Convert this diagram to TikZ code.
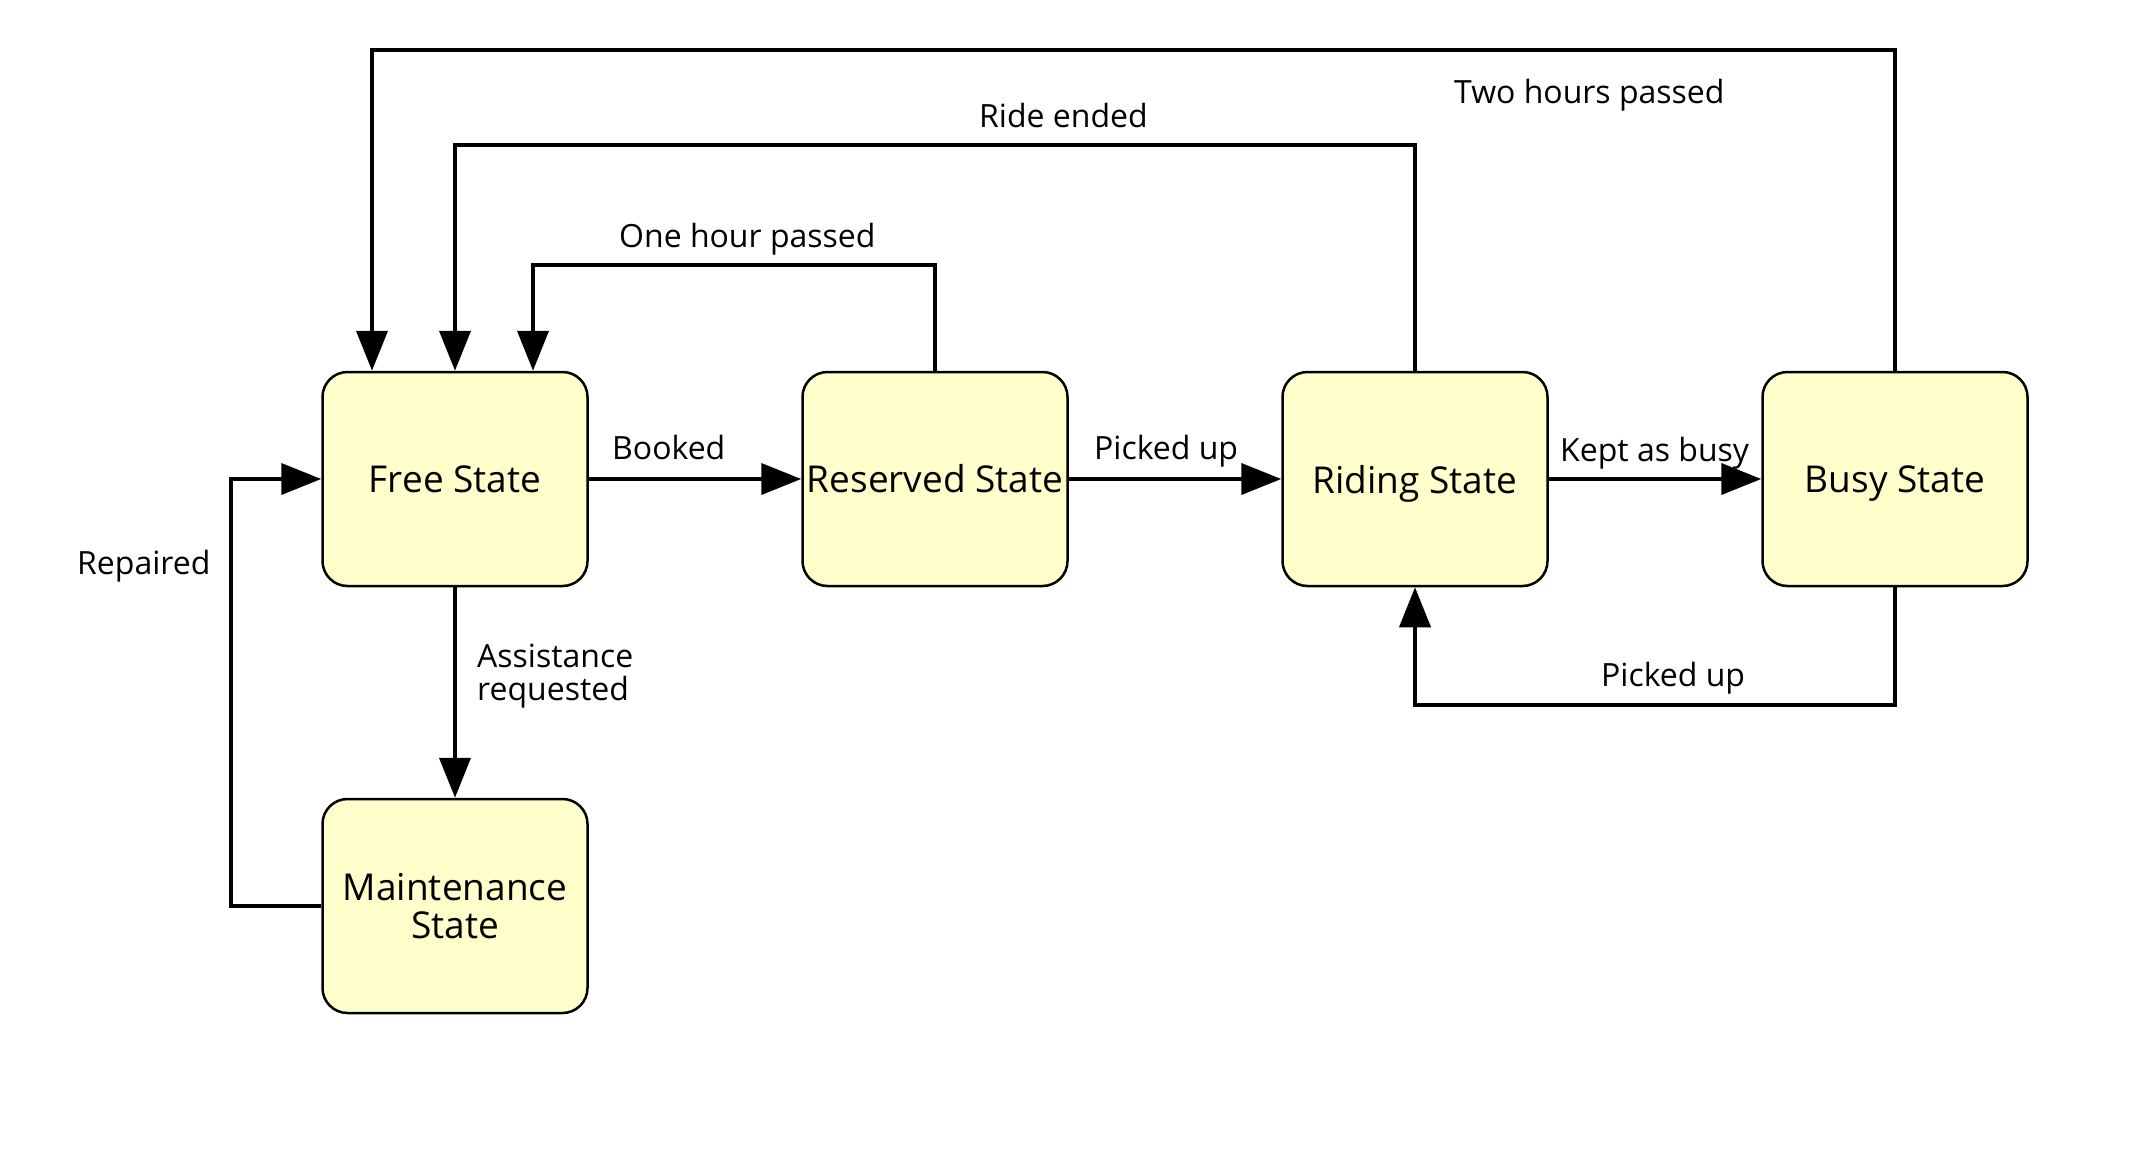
\documentclass[tikz,border=0pt]{standalone}
\usepackage{fontspec}
\setmainfont{Open Sans}
\usetikzlibrary{arrows.meta,calc}
\definecolor{stfill}{HTML}{FFFFCC}
\begin{document}
\begin{tikzpicture}[x=1pt,y=-1pt,
  state/.style={draw=black,line width=2.5pt,fill=stfill,rounded corners=25pt,
    minimum width=265pt,minimum height=214pt,inner sep=0pt,align=center,
    font=\fontsize{37}{37.5}\selectfont},
  nodesc/.style={text depth=0pt},
  conn/.style={line width=4pt,-{Triangle[length=40pt,width=31pt]}},
  lab/.style={font=\fontsize{32}{32.5}\selectfont,inner sep=0pt,anchor=base west}]
\useasboundingbox (0,0) rectangle (2129,1151);
% states
\node[state] (free) at (455,479) {Free State};
\node[state] (res) at (935,479) {Reserved State};
\node[state,nodesc] (ride) at (1415,479) {Riding State};
\node[state,nodesc] (busy) at (1895,479) {Busy State};
\node[state] (maint) at (455,906) {Maintenance\\State};
% bend coordinates
\coordinate (th) at (372,50);
\coordinate (re) at (0,145);
\coordinate (oh) at (533,265);
\coordinate (bb) at (0,705);
\coordinate (rp) at (231,0);
% connectors
\draw[conn] (free.east) -- (res.west);
\draw[conn] (res.east) -- (ride.west);
\draw[conn] (ride.east) -- (busy.west);
\draw[conn] (free.south) -- (maint.north);
\draw[conn] (maint.west) -- (maint.west -| rp) |- (free.west);
\draw[conn] (busy.south) -- (busy.south |- bb) -| (ride.south);
\draw[conn] (ride.north) -- (ride.north |- re) -| (free.north);
\draw[conn] (res.north) |- (oh) -- (oh |- free.north);
\draw[conn] (busy.north) |- (th) -- (th |- free.north);
% labels
\node[lab] (lbooked) at (612,459) {Booked};
\node[lab] (lpick1) at (1094,459) {Picked up};
\node[lab] (lkept) at (1560,461) {Kept as busy};
\node[lab] (lpick2) at (1601,686) {Picked up};
\node[lab] (ltwo) at (1454,103) {Two hours passed};
\node[lab] (lride) at (979,127) {Ride ended};
\node[lab] (lone) at (619,247) {One hour passed};
\node[lab] (lrep) at (77,574) {Repaired};
\node[lab,anchor=north west,align=left] (lassist) at (477,644) {Assistance\\requested};
\end{tikzpicture}
\end{document}
